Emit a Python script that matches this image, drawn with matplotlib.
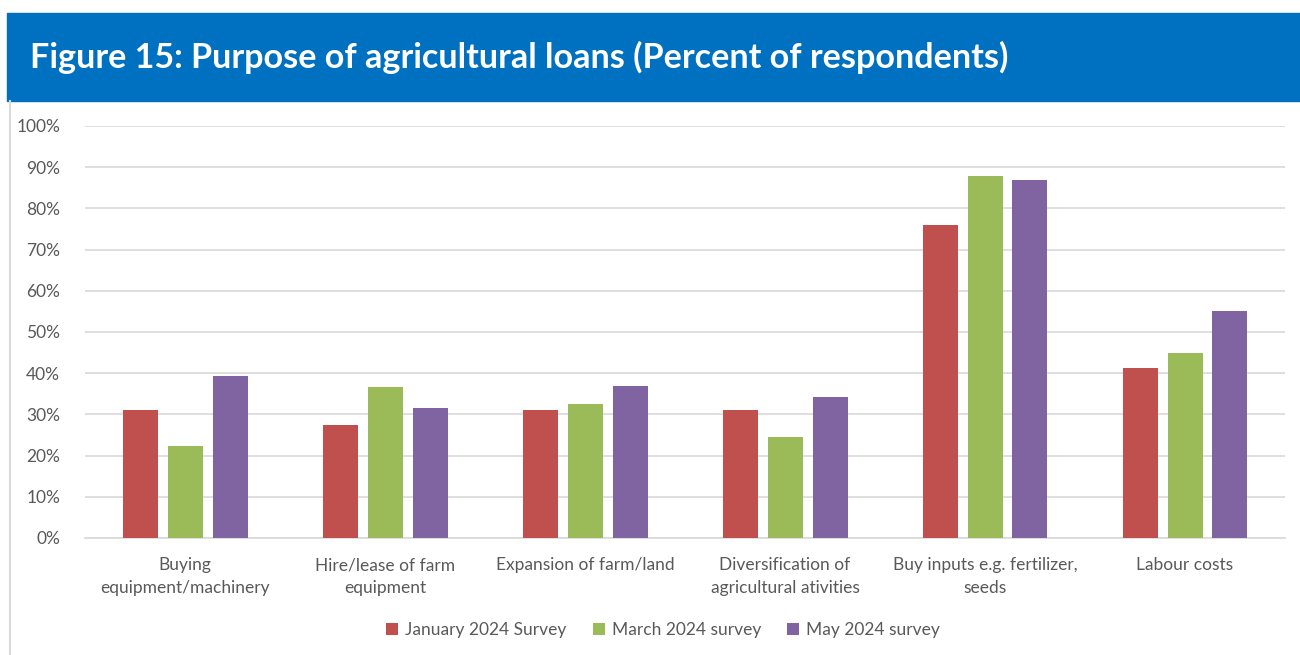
import matplotlib
matplotlib.use("Agg")
import matplotlib.pyplot as plt
import numpy as np
from matplotlib.patches import Rectangle
from matplotlib.lines import Line2D

categories = ["Buying\nequipment/machinery", "Hire/lease of farm\nequipment",
              "Expansion of farm/land", "Diversification of\nagricultural ativities",
              "Buy inputs e.g. fertilizer,\nseeds", "Labour costs"]
series_names = ["January 2024 Survey", "March 2024 survey", "May 2024 survey"]
jan = [31.1, 27.5, 31.1, 31.1, 76.0, 41.3]
mar = [22.4, 36.7, 32.6, 24.5, 87.8, 44.9]
may = [39.4, 31.6, 36.9, 34.2, 86.9, 55.2]
colors = ["#C0504D", "#9BBB59", "#8064A2"]
yticks = [0, 10, 20, 30, 40, 50, 60, 70, 80, 90, 100]

W, H = 1300, 655
fig = plt.figure(figsize=(13, 6.55), dpi=100)
plt.rcParams['font.family'] = ['Lato', 'DejaVu Sans']

# Title band
fig.patches.append(Rectangle((7 / W, 1 - 101 / H), 1 - 7 / W, 88 / H,
                             transform=fig.transFigure, color="#0070C0", zorder=0))
fig.text(30 / W, 1 - 57 / H, "Figure 15: Purpose of agricultural loans (Percent of respondents)",
         color="white", fontsize=24.6, fontweight="bold", va="center", ha="left",
         family=['Lato', 'DejaVu Sans'])
# Left border line
fig.lines.append(Line2D([10 / W, 10 / W], [0, 1 - 101 / H], transform=fig.transFigure,
                        color="#D9D9D9", lw=1.5))

ax = fig.add_axes([85 / W, 1 - 538 / H, 1200 / W, 412 / H])
x = np.arange(len(categories))
bw = 0.175
off = 0.225
for i, (vals, c, name) in enumerate(zip([jan, mar, may], colors, series_names)):
    ax.bar(x + (i - 1) * off, vals, width=bw, color=c, label=name, zorder=3)

ax.set_xlim(-0.5, len(categories) - 0.5)
ax.set_ylim(0, 100)
ax.set_yticks(yticks)
ax.set_yticklabels([f"{v}%" for v in yticks])
ax.set_xticks(x)
ax.set_xticklabels(categories, linespacing=1.5)
ax.grid(axis="y", color="#D9D9D9", lw=1.2, zorder=0)
for s in ["top", "right", "left"]:
    ax.spines[s].set_visible(False)
ax.spines["bottom"].set_color("#D9D9D9")
ax.spines["bottom"].set_linewidth(1.2)
ax.tick_params(axis="both", length=0, colors="#595959", labelsize=12.5)
ax.tick_params(axis="y", pad=18)
ax.tick_params(axis="x", pad=14)

leg = ax.legend(loc="center", bbox_to_anchor=(663 / W, 1 - 630 / H),
                bbox_transform=fig.transFigure, ncol=3, frameon=False,
                fontsize=12.5, handlelength=0.7, handleheight=0.7, handletextpad=0.4,
                columnspacing=1.5)
for t in leg.get_texts():
    t.set_color("#595959")

fig.savefig("out.png", dpi=100)
